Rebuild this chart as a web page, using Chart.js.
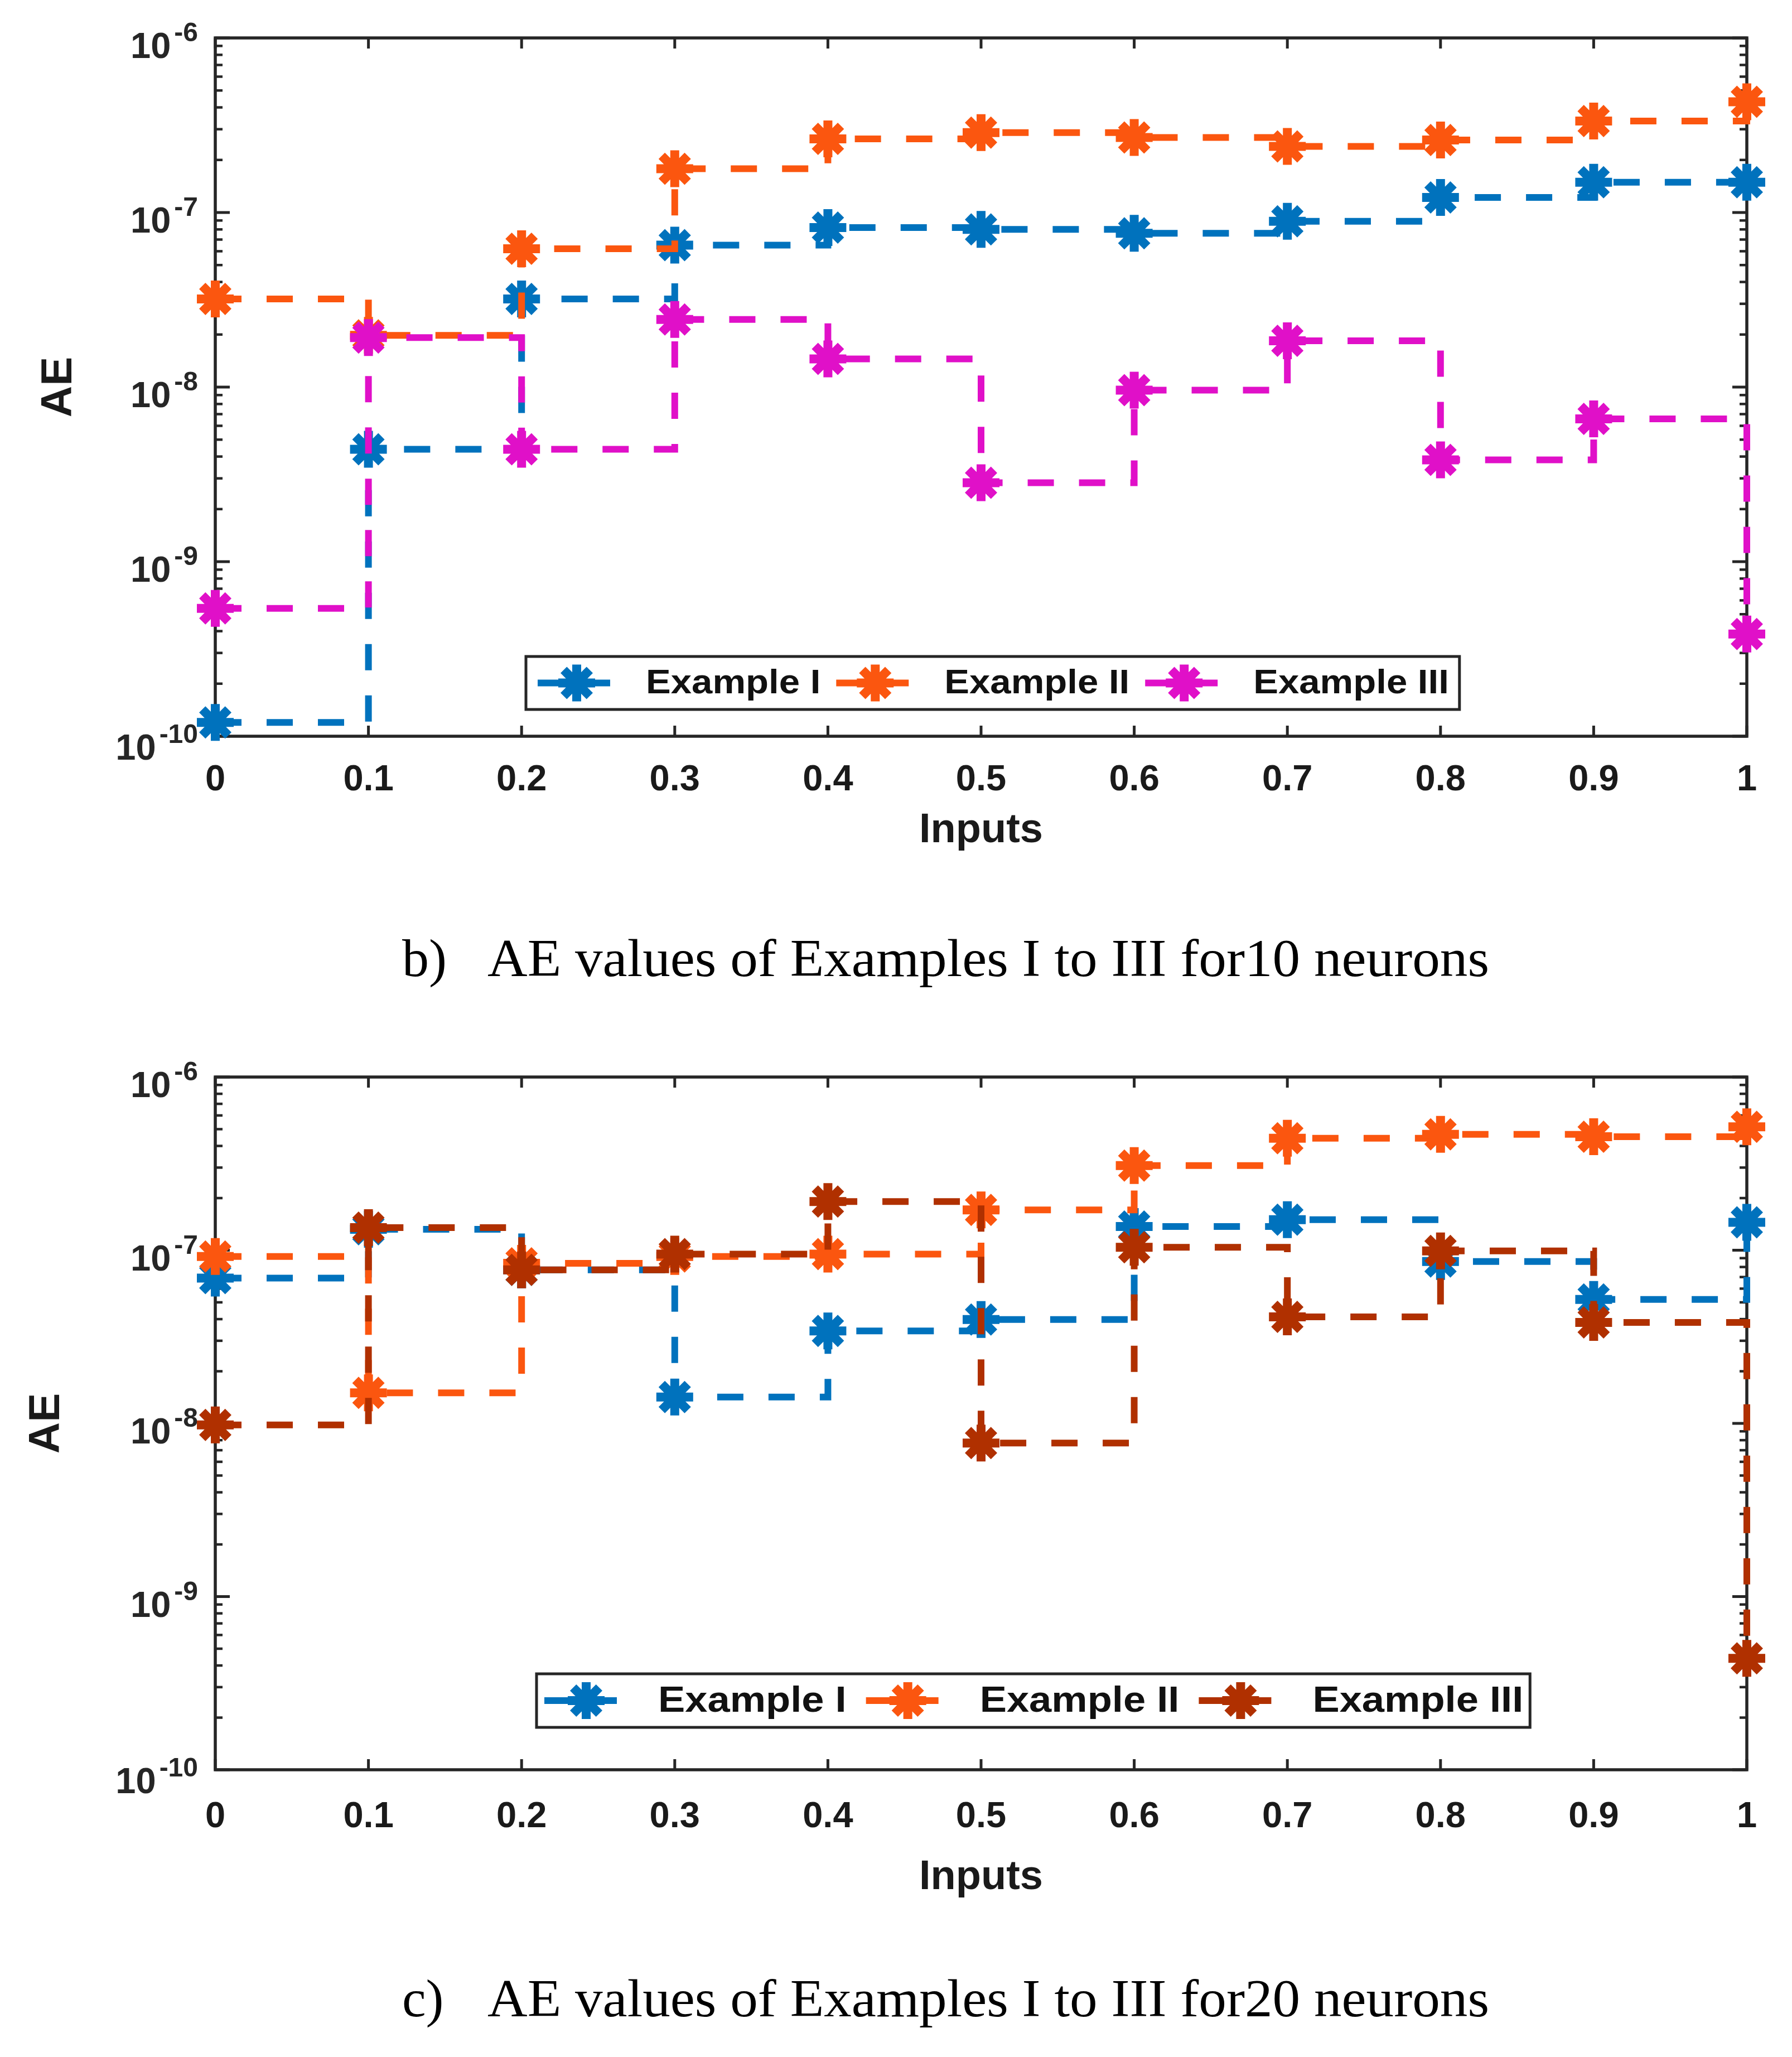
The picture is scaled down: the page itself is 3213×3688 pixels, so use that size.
<!DOCTYPE html>
<html><head><meta charset="utf-8">
<script src="https://cdn.jsdelivr.net/npm/chart.js@4.4.1/dist/chart.umd.min.js"></script>
<style>
html,body{margin:0;padding:0;background:#fff;}
body{width:3213px;height:3688px;position:relative;overflow:hidden;}
canvas{position:absolute;left:0;}
.cap{position:absolute;font-family:"Liberation Serif","DejaVu Serif",serif;font-size:96px;line-height:1;color:#000;white-space:pre;transform-origin:0 0;}
</style></head><body>
<canvas id="c1" width="3213" height="1600" style="top:0px;width:3213px;height:1600px"></canvas>
<canvas id="c2" width="3213" height="1650" style="top:1800px;width:3213px;height:1650px"></canvas>
<div class="cap" style="left:721px;top:1670px">b)</div>
<div class="cap fit" style="left:874px;top:1670px">AE values of Examples I to III for10 neurons</div>
<div class="cap" style="left:721px;top:3535px">c)</div>
<div class="cap fit" style="left:874px;top:3535px">AE values of Examples I to III for20 neurons</div>
<script>
// ---------- data ----------
const inputs = [0, 0.1, 0.2, 0.3, 0.4, 0.5, 0.6, 0.7, 0.8, 0.9, 1];
const seriesLabels = ['Example I', 'Example II', 'Example III'];

const ae10ExampleI   = [1.2e-10, 4.4e-9, 3.2e-8, 6.5e-8, 8.2e-8, 8.0e-8, 7.6e-8, 8.9e-8, 1.22e-7, 1.49e-7, 1.49e-7];
const ae10ExampleII  = [3.2e-8, 1.98e-8, 6.2e-8, 1.78e-7, 2.64e-7, 2.87e-7, 2.69e-7, 2.39e-7, 2.6e-7, 3.34e-7, 4.31e-7];
const ae10ExampleIII = [5.4e-10, 1.92e-8, 4.4e-9, 2.44e-8, 1.45e-8, 2.83e-9, 9.6e-9, 1.84e-8, 3.83e-9, 6.57e-9, 3.85e-10];

const ae20ExampleI   = [6.9e-8, 1.32e-7, 7.7e-8, 1.42e-8, 3.42e-8, 3.98e-8, 1.37e-7, 1.5e-7, 8.6e-8, 5.2e-8, 1.45e-7];
const ae20ExampleII  = [9.2e-8, 1.5e-8, 8.4e-8, 9.2e-8, 9.5e-8, 1.71e-7, 3.08e-7, 4.43e-7, 4.67e-7, 4.52e-7, 5.16e-7];
const ae20ExampleIII = [9.8e-9, 1.35e-7, 7.7e-8, 9.5e-8, 1.91e-7, 7.7e-9, 1.04e-7, 4.12e-8, 9.9e-8, 3.83e-8, 4.4e-10];

const xTickValues = [0, 0.1, 0.2, 0.3, 0.4, 0.5, 0.6, 0.7, 0.8, 0.9, 1];
const xTickLabels = ['0', '0.1', '0.2', '0.3', '0.4', '0.5', '0.6', '0.7', '0.8', '0.9', '1'];
const yDecadeValues = [1e-10, 1e-9, 1e-8, 1e-7, 1e-6];
const yDecadeExponents = ['-10', '-9', '-8', '-7', '-6'];
const yMinorMultipliers = [2, 3, 4, 5, 6, 7, 8, 9];

// ---------- styling ----------
const INK = '#262626';
const FONT = '"Liberation Sans", Arial, sans-serif';
const colorsTop = ['#0072BD', '#FB560F', '#E010C8'];
const colorsBottom = ['#0072BD', '#FB560F', '#B03000'];
const MARK_R = 33, MARK_W = 16;

function makeDatasets(seriesList, colors) {
  return seriesList.map((vals, i) => ({
    label: seriesLabels[i],
    data: inputs.map((x, k) => ({x: x, y: vals[k]})),
    borderColor: colors[i],
    backgroundColor: colors[i],
    borderWidth: 12,
    borderDash: [47, 45],
    borderCapStyle: 'butt',
    stepped: true,
    fill: false,
    pointStyle: 'star',
    pointRadius: MARK_R,
    pointBorderWidth: MARK_W,
    pointBorderColor: colors[i],
    pointBackgroundColor: colors[i],
    pointHoverRadius: MARK_R,
    clip: false,
    order: 10 - i
  }));
}

const axesPlugin = {
  id: 'matlabAxes',
  beforeDatasetsDraw(chart) {
    const {ctx, chartArea: a, scales: {x, y}} = chart;
    ctx.save();
    ctx.strokeStyle = INK;
    ctx.fillStyle = INK;
    ctx.lineCap = 'butt';
    const seg = (x1, y1, x2, y2) => { ctx.beginPath(); ctx.moveTo(x1, y1); ctx.lineTo(x2, y2); ctx.stroke(); };
    ctx.lineWidth = 5;
    x.ticks.forEach(t => {
      const px = x.getPixelForValue(t.value);
      seg(px, a.bottom, px, a.bottom - 19);
      seg(px, a.top, px, a.top + 19);
    });
    yDecadeValues.forEach((dv, di) => {
      const py = y.getPixelForValue(dv);
      ctx.lineWidth = 5;
      seg(a.left, py, a.left + 26, py);
      seg(a.right, py, a.right - 26, py);
      if (di < yDecadeValues.length - 1) {
        ctx.lineWidth = 4.5;
        yMinorMultipliers.forEach(m => {
          const pm = y.getPixelForValue(dv * m);
          seg(a.left, pm, a.left + 13, pm);
          seg(a.right, pm, a.right - 13, pm);
        });
      }
    });
    ctx.lineWidth = 5.5;
    ctx.strokeRect(a.left, a.top, a.right - a.left, a.bottom - a.top);
    ctx.textAlign = 'right';
    ctx.textBaseline = 'alphabetic';
    yDecadeValues.forEach((dv, di) => {
      const py = y.getPixelForValue(dv);
      const extra = di === 0 ? 6 : 0;
      ctx.font = 'bold 48px ' + FONT;
      const ex = yDecadeExponents[di];
      const w = ctx.measureText(ex).width;
      const xr = a.left - 31;
      ctx.fillText(ex, xr, py + 6 + extra);
      ctx.font = 'bold 65px ' + FONT;
      ctx.fillText('10', xr - w - 6, py + 36 + extra);
    });
    ctx.restore();
  },
  afterDraw(chart) {
    const L = chart.options.plugins.matlabAxes;
    if (!L) return;
    const {ctx} = chart;
    ctx.save();
    ctx.font = 'bold ' + L.fontSize + 'px ' + FONT;
    const dsets = chart.data.datasets;
    let x = L.left + L.padL;
    const items = dsets.map(ds => {
      const sx = x;
      const tx = sx + L.sampleW + L.gapText;
      const tw = ctx.measureText(ds.label).width * L.scaleX;
      x = tx + tw + L.gapEntry;
      return {ds, sx, tx, tw};
    });
    const last = items[items.length - 1];
    const right = last.tx + last.tw + L.padR;
    const yc = L.top + L.height / 2;
    ctx.fillStyle = '#fff';
    ctx.fillRect(L.left, L.top, right - L.left, L.height);
    ctx.strokeStyle = INK;
    ctx.lineWidth = 5;
    ctx.strokeRect(L.left, L.top, right - L.left, L.height);
    items.forEach(it => {
      const c = it.ds.borderColor;
      ctx.save();
      ctx.strokeStyle = c;
      ctx.lineWidth = 12;
      ctx.setLineDash([45, 40]);
      ctx.beginPath();
      ctx.moveTo(it.sx, yc);
      ctx.lineTo(it.sx + L.sampleW, yc);
      ctx.stroke();
      ctx.setLineDash([]);
      ctx.lineWidth = MARK_W;
      ctx.fillStyle = c;
      Chart.helpers.drawPoint(ctx, {pointStyle: 'star', radius: MARK_R, rotation: 0, borderWidth: MARK_W}, it.sx + L.sampleW / 2, yc);
      ctx.restore();
      ctx.save();
      ctx.fillStyle = '#111';
      ctx.textAlign = 'left';
      ctx.textBaseline = 'middle';
      ctx.translate(it.tx, yc + 2);
      ctx.scale(L.scaleX, 1);
      ctx.fillText(it.ds.label, 0, 0);
      ctx.restore();
    });
    ctx.restore();
  }
};

function makeChart(id, seriesList, colors, geo) {
  return new Chart(document.getElementById(id), {
    type: 'line',
    data: {datasets: makeDatasets(seriesList, colors)},
    plugins: [axesPlugin],
    options: {
      responsive: false,
      animation: false,
      devicePixelRatio: 1,
      events: [],
      layout: {padding: {top: geo.top, right: 81, left: 0, bottom: 0}},
      plugins: {
        legend: {display: false},
        tooltip: {enabled: false},
        matlabAxes: geo.legend
      },
      scales: {
        x: {
          type: 'linear', min: 0, max: 1,
          grid: {display: false},
          border: {display: false},
          afterBuildTicks: s => { s.ticks = xTickValues.map(v => ({value: v})); },
          afterFit: s => { s.height = geo.xHeight; },
          ticks: {
            font: {family: FONT, weight: 'bold', size: 65},
            color: '#1a1a1a', padding: geo.xTickPad, maxRotation: 0, autoSkip: false,
            callback: (v, i) => xTickLabels[i]
          },
          title: {display: true, text: 'Inputs', color: '#1a1a1a',
            font: {family: FONT, weight: 'bold', size: 74},
            padding: {top: 0, bottom: geo.xTitlePad}}
        },
        y: {
          type: 'logarithmic', min: 1e-10, max: 1e-6,
          grid: {display: false},
          border: {display: false},
          ticks: {display: false},
          afterFit: s => { s.width = 386; },
          title: {display: true, text: 'AE', color: '#1a1a1a',
            font: {family: FONT, weight: 'bold', size: 78},
            padding: {top: geo.yTitlePad, bottom: 0}}
        }
      }
    }
  });
}

makeChart('c1', [ae10ExampleI, ae10ExampleII, ae10ExampleIII], colorsTop, {
  top: 68, xHeight: 280, xTickPad: 32, xTitlePad: 66, yTitlePad: 60,
  legend: {left: 943, top: 1177, height: 95, fontSize: 61, scaleX: 1.1, sampleW: 140, padL: 21, gapText: 54, gapEntry: 28, padR: 19}
});
makeChart('c2', [ae20ExampleI, ae20ExampleII, ae20ExampleIII], colorsBottom, {
  top: 131, xHeight: 277, xTickPad: 38, xTitlePad: 39, yTitlePad: 38,
  legend: {left: 962, top: 1201, height: 96, fontSize: 64, scaleX: 1.13, sampleW: 150, padL: 14, gapText: 54, gapEntry: 35, padR: 12}
});

document.querySelectorAll('.fit').forEach(el => {
  const w = el.getBoundingClientRect().width;
  el.style.transform = 'scaleX(' + (1796 / w) + ')';
});
</script>
</body></html>
